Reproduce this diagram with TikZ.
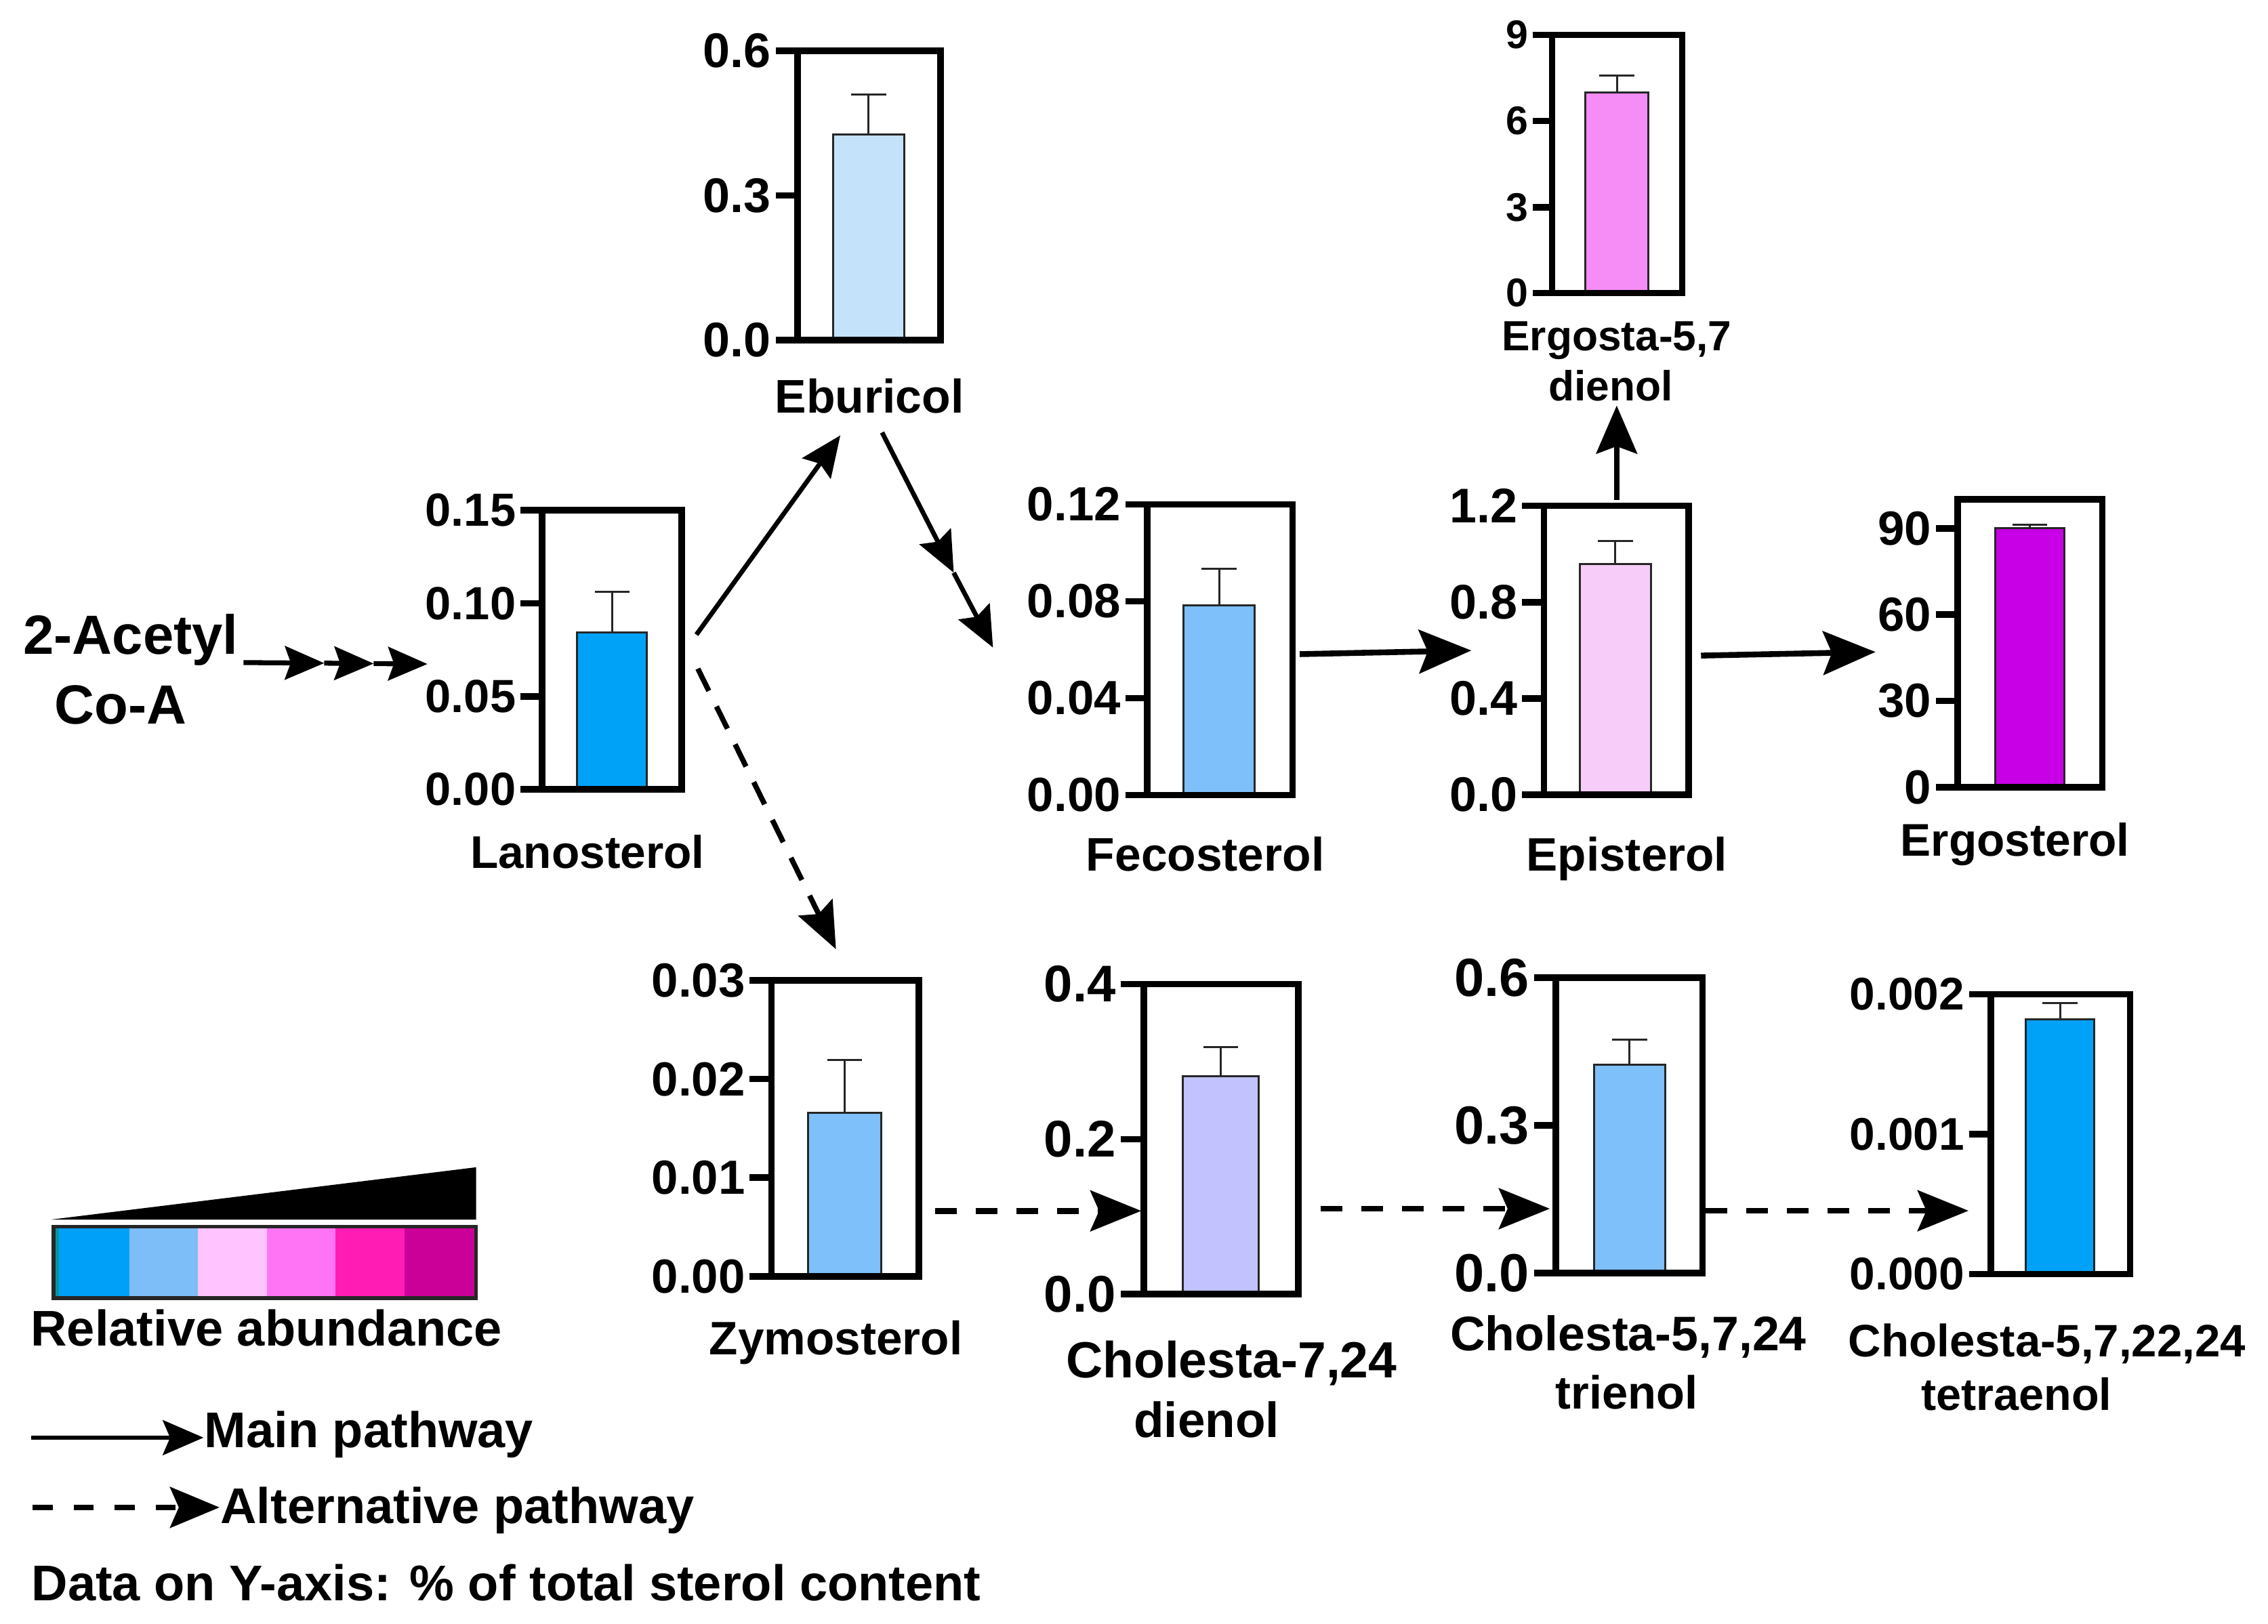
\documentclass[tikz,border=0pt]{standalone}
\usepackage{fontspec}
\setmainfont{Liberation Sans}
\usetikzlibrary{arrows.meta}
\definecolor{cLano}{HTML}{00A2F8}
\definecolor{cEbur}{HTML}{C4E2FA}
\definecolor{cFeco}{HTML}{7DC0FA}
\definecolor{cEpi}{HTML}{F8CCF8}
\definecolor{cErg}{HTML}{F68CF6}
\definecolor{cErgo}{HTML}{C800E6}
\definecolor{cLav}{HTML}{C2C2FF}
\definecolor{sA}{HTML}{00A0F8}
\definecolor{sB}{HTML}{7DBEF8}
\definecolor{sC}{HTML}{FFC4FF}
\definecolor{sD}{HTML}{FF74F4}
\definecolor{sE}{HTML}{FF1CB4}
\definecolor{sF}{HTML}{CA0098}
\definecolor{sTeal}{HTML}{0096A0}
\newcommand{\fsz}[1]{\fontsize{#1}{#1}\selectfont}
% chart: L T R B barleft barright bartop errtop colour
\newcommand{\chart}[9]{%
  \fill[#9] (#5,#4) rectangle (#6,#7);
  \draw[barline] (#5,#4) -- (#5,#7) -- (#6,#7) -- (#6,#4);
  \draw[errline] ({(#5+#6)/2},#7) -- ({(#5+#6)/2},#8);
  \draw[errline] ({(#5+#6)/2-12},#8) -- ({(#5+#6)/2+12},#8);
  \draw[frame] (#1,#2) rectangle (#3,#4);
}
% tick: name L y label size length
\newcommand{\ytk}[6]{%
  \draw[tickline] ({#2-#6},#3) -- (#2,#3);
  \node[ticklab] (#1) at ({#2-#6-3},#3) {\fsz{#5}#4};
}
\begin{document}
\begin{tikzpicture}[x=1pt,y=-1pt,
  frame/.style={line width=4.5pt},
  tickline/.style={line width=4.5pt},
  barline/.style={line width=1.4pt, draw=black!85},
  errline/.style={line width=1.4pt, draw=black!85},
  ticklab/.style={anchor=east, inner sep=0pt, font=\bfseries},
  lab/.style={anchor=base, inner sep=0pt, font=\bfseries},
  legtxt/.style={anchor=base west, inner sep=0pt, font=\bfseries\fsz{34.5}},
  harr/.style={line width=4pt, -{Stealth[length=36pt,width=30pt,inset=6pt]}},
  varr/.style={line width=4pt, -{Stealth[length=33pt,width=28pt,inset=5pt]}},
  darr/.style={line width=3.2pt, -{Stealth[length=28pt,width=24pt,inset=4pt]}},
  tarr/.style={line width=3.4pt, -{Stealth[length=27pt,width=23pt,inset=4pt]}},
  dsharr/.style={line width=4pt, dash pattern=on 15pt off 13pt, -{Stealth[length=35pt,width=28pt,inset=6pt]}},
  ddarr/.style={line width=3.6pt, dash pattern=on 17pt off 12pt, -{Stealth[length=32pt,width=26pt,inset=5pt]}},
  lgmain/.style={line width=3.2pt, -{Stealth[length=28pt,width=24pt,inset=5pt]}},
  lgalt/.style={line width=4pt, dash pattern=on 13.6pt off 14.6pt, -{Stealth[length=34pt,width=28pt,inset=6pt]}}
]
\fill[white] (0,0) rectangle (1560,1116.75);
\useasboundingbox (0,0) rectangle (1560,1116.75);

% ---------- Lanosterol
\chart{373}{351}{469}{543}{397}{445}{435}{407}{cLano}
\ytk{lanoA}{373}{351}{0.15}{32}{15}
\ytk{lanoB}{373}{415}{0.10}{32}{15}
\ytk{lanoC}{373}{479}{0.05}{32}{15}
\ytk{lanoD}{373}{543}{0.00}{32}{15}
\node[lab, font=\bfseries\fsz{31.5}] (lano) at (404,597.4) {Lanosterol};

% ---------- Eburicol
\chart{548.5}{35}{647}{234}{573}{622}{92.7}{65}{cEbur}
\ytk{eburA}{548.5}{35}{0.6}{33.5}{15}
\ytk{eburB}{548.5}{134.5}{0.3}{33.5}{15}
\ytk{eburC}{548.5}{234}{0.0}{33.5}{15}
\node[lab, font=\bfseries\fsz{32.5}] (ebur) at (598,284.3) {Eburicol};

% ---------- Fecosterol
\chart{789}{347}{889}{547}{814}{863}{416.5}{391.4}{cFeco}
\ytk{fecoA}{789}{347}{0.12}{33}{15}
\ytk{fecoB}{789}{413.7}{0.08}{33}{15}
\ytk{fecoC}{789}{480.3}{0.04}{33}{15}
\ytk{fecoD}{789}{547}{0.00}{33}{15}
\node[lab, font=\bfseries\fsz{32.4}] (feco) at (829,599) {Fecosterol};

% ---------- Episterol
\chart{1062}{348}{1161.6}{546.7}{1086.5}{1135.6}{388}{372}{cEpi}
\ytk{epiA}{1062}{348}{1.2}{33.5}{15}
\ytk{epiB}{1062}{414.2}{0.8}{33.5}{15}
\ytk{epiC}{1062}{480.4}{0.4}{33.5}{15}
\ytk{epiD}{1062}{546.7}{0.0}{33.5}{15}
\node[lab, font=\bfseries\fsz{32.3}] (epi) at (1119,599) {Episterol};

% ---------- Ergosta-5,7 dienol
\chart{1067.5}{24}{1157}{201.5}{1090.5}{1133.8}{63.7}{52}{cErg}
\ytk{ergA}{1067.5}{24}{9}{27.5}{13}
\ytk{ergB}{1067.5}{83.2}{6}{27.5}{13}
\ytk{ergC}{1067.5}{142.7}{3}{27.5}{13}
\ytk{ergD}{1067.5}{201.5}{0}{27.5}{13}
\node[lab, font=\bfseries\fsz{29}] (erg) at (1112,241) {Ergosta-5,7};
\node[lab, font=\bfseries\fsz{29}] (ergb) at (1108,275.5) {dienol};

% ---------- Ergosterol
\chart{1346.5}{343.6}{1446}{541.5}{1372.5}{1420}{363.5}{361}{cErgo}
\ytk{ergoA}{1346.5}{363.5}{90}{33}{15}
\ytk{ergoB}{1346.5}{422.8}{60}{33}{15}
\ytk{ergoC}{1346.5}{482.1}{30}{33}{15}
\ytk{ergoD}{1346.5}{541.5}{0}{33}{15}
\node[lab, font=\bfseries\fsz{31.5}] (ergo) at (1386,589) {Ergosterol};

% ---------- Zymosterol
\chart{530.7}{674.3}{632}{878.2}{556}{606}{765.5}{729.3}{cFeco}
\ytk{zymoA}{530.7}{674.3}{0.03}{33}{15}
\ytk{zymoB}{530.7}{742.3}{0.02}{33}{15}
\ytk{zymoC}{530.7}{810.2}{0.01}{33}{15}
\ytk{zymoD}{530.7}{878.2}{0.00}{33}{15}
\node[lab, font=\bfseries\fsz{32.3}] (zymo) at (575,931.7) {Zymosterol};

% ---------- Cholesta-7,24 dienol
\chart{786.7}{677}{893}{890.3}{813.5}{865.8}{740.5}{720.2}{cLav}
\ytk{cA}{786.7}{677}{0.4}{35.5}{16}
\ytk{cB}{786.7}{783.7}{0.2}{35.5}{16}
\ytk{cC}{786.7}{890.3}{0.0}{35.5}{16}
\node[lab, font=\bfseries\fsz{35}] (cho) at (847,948) {Cholesta-7,24};
\node[lab, font=\bfseries\fsz{34}] (chob) at (830,989) {dienol};

% ---------- Cholesta-5,7,24 trienol
\chart{1070.2}{672.5}{1171}{875.8}{1096.3}{1145.4}{732.3}{715.1}{cFeco}
\ytk{dA}{1070.2}{672.5}{0.6}{37}{15}
\ytk{dB}{1070.2}{774.2}{0.3}{37}{15}
\ytk{dC}{1070.2}{875.8}{0.0}{37}{15}
\node[lab, font=\bfseries\fsz{33.4}] (tri) at (1120,929) {Cholesta-5,7,24};
\node[lab, font=\bfseries\fsz{32}] (trib) at (1119,969) {trienol};

% ---------- Cholesta-5,7,22,24 tetraenol
\chart{1369.4}{684}{1465.2}{876.4}{1393.2}{1440.6}{701.2}{690}{cLano}
\ytk{eA}{1369.4}{684}{0.002}{31.5}{15}
\ytk{eB}{1369.4}{780.2}{0.001}{31.5}{15}
\ytk{eC}{1369.4}{876.4}{0.000}{31.5}{15}
\node[lab, font=\bfseries\fsz{31.3}] (tet) at (1408,933.5) {Cholesta-5,7,22,24};
\node[lab, font=\bfseries\fsz{31}] (tetb) at (1387,970) {tetraenol};

% ---------- 2-Acetyl Co-A
\node[lab, font=\bfseries\fsz{38}] (aco) at (90,450) {2-Acetyl};
\node[lab, font=\bfseries\fsz{38}] (acob) at (83,498) {Co-A};

% ---------- connector points
\coordinate (acoOut) at (167.5,455.8);
\coordinate (stepA) at (223,456.2);
\coordinate (stepB) at (257,456.5);
\coordinate (lanoIn) at (294,456.8);
\coordinate (lanoUp) at (479,436.6);
\coordinate (eburIn) at (578,299.5);
\coordinate (eburOut) at (606.7,297.5);
\coordinate (eburMid) at (656,394);
\coordinate (fecoIn) at (683,445.5);
\coordinate (lanoDown) at (480,460);
\coordinate (zymoIn) at (575,653);
\coordinate (fecoOut) at (894,450);
\coordinate (epiIn) at (1012,447.5);
\coordinate (epiUp) at (1112,344);
\coordinate (ergIn) at (1112,279);
\coordinate (epiOut) at (1170,451);
\coordinate (ergoIn) at (1290,448.5);
\coordinate (zymoOut) at (643,833);
\coordinate (choIn) at (785,833);
\coordinate (choOut) at (908.3,831.5);
\coordinate (triIn) at (1066,831.5);
\coordinate (triOut) at (1173,832.9);
\coordinate (tetIn) at (1354,832.9);

% ---------- connectors
\draw[tarr] (acoOut) -- (stepA);
\draw[tarr] (stepA) -- (stepB);
\draw[tarr] (stepB) -- (lanoIn);
\draw[darr] (lanoUp) -- (eburIn);
\draw[darr] (eburOut) -- (eburMid);
\draw[darr] (eburMid) -- (fecoIn);
\draw[ddarr] (lanoDown) -- (zymoIn);
\draw[harr] (fecoOut) -- (epiIn);
\draw[varr] (epiUp) -- (ergIn);
\draw[harr] (epiOut) -- (ergoIn);
\draw[dsharr] (zymoOut) -- (choIn);
\draw[dsharr] (choOut) -- (triIn);
\draw[dsharr] (triOut) -- (tetIn);

% ---------- legend
\fill[black] (35,839) -- (327.5,803) -- (327.5,839) -- cycle;
\fill[sA] (36.8,844) rectangle (89.2,893);
\fill[sB] (89.2,844) rectangle (136.2,893);
\fill[sC] (136.2,844) rectangle (183.5,893);
\fill[sD] (183.5,844) rectangle (230.5,893);
\fill[sE] (230.5,844) rectangle (278.4,893);
\fill[sF] (278.4,844) rectangle (327.6,893);
\fill[sTeal] (36.8,844) rectangle (40.5,893);
\draw[line width=2.4pt, draw=black!85] (36.8,844) rectangle (327.6,893);
\node[legtxt] (rel) at (21,926) {Relative abundance};

\coordinate (lgMainA) at (21.5,989);
\coordinate (lgMainB) at (140,989);
\draw[lgmain] (lgMainA) -- (lgMainB);
\node[legtxt] (lgMain) at (140.5,996) {Main pathway};

\coordinate (lgAltA) at (22.6,1037);
\coordinate (lgAltB) at (151,1037);
\draw[lgalt] (lgAltA) -- (lgAltB);
\node[legtxt] (lgAlt) at (151.5,1048) {Alternative pathway};

\node[legtxt] (note) at (21.5,1101) {Data on Y-axis: \% of total sterol content};
\end{tikzpicture}
\end{document}
